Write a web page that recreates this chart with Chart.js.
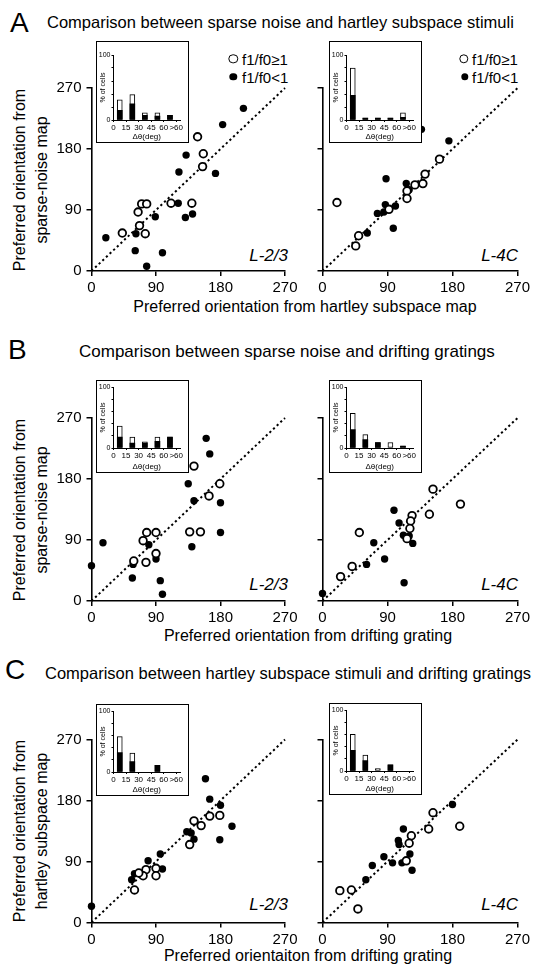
<!DOCTYPE html>
<html><head><meta charset="utf-8">
<script src="https://cdn.jsdelivr.net/npm/chart.js@4.4.0/dist/chart.umd.min.js"></script>
<style>
html,body{margin:0;padding:0;background:#fff;}
body{width:538px;height:965px;position:relative;overflow:hidden;font-family:"Liberation Sans",Arial,sans-serif;color:#000;}
.abs{position:absolute;white-space:nowrap;line-height:1;}
.vc{transform:translateY(-50%);}
.cc{transform:translate(-50%,-50%);}
.rc{transform:translate(-100%,-50%);}
.ytitle{position:absolute;white-space:nowrap;font-size:16px;line-height:22px;text-align:center;transform:translate(-50%,-50%) rotate(-90deg);}
canvas{position:absolute;}
.inset{position:absolute;border:1px solid #000;background:#fff;box-sizing:border-box;}
.inset canvas{position:absolute;left:0;top:0;}
.mo{position:absolute;width:9.4px;height:9.4px;border:1.8px solid #000;border-radius:50%;box-sizing:border-box;background:#fff;transform:translate(-50%,-50%);}
.mf{position:absolute;width:7.4px;height:7.4px;border-radius:50%;background:#000;transform:translate(-50%,-50%);}
</style></head><body>

<div class="abs vc" style="left:10px;top:23px;font-size:28px">A</div>
<div class="abs vc" style="left:47px;top:22px;font-size:16.5px">Comparison between sparse noise and hartley subspace stimuli</div>
<div class="abs vc" style="left:8px;top:350px;font-size:28px">B</div>
<div class="abs vc" style="left:79px;top:351px;font-size:17px">Comparison between sparse noise and drifting gratings</div>
<div class="abs vc" style="left:5px;top:670px;font-size:28px">C</div>
<div class="abs vc" style="left:45px;top:673px;font-size:16.5px">Comparison between hartley subspace stimuli and drifting gratings</div>

<div class="ytitle" style="left:31px;top:180px">Preferred orientation from<br>sparse-noise map</div>
<div class="ytitle" style="left:31px;top:510px">Preferred orientation from<br>sparse-noise map</div>
<div class="ytitle" style="left:31px;top:831px">Preferred orientation from<br>hartley subspace map</div>

<div class="abs cc" style="left:305px;top:306.5px;font-size:16px">Preferred orientation from hartley subspace map</div>
<div class="abs cc" style="left:308px;top:636px;font-size:16px">Preferred orientation from drifting grating</div>
<div class="abs cc" style="left:308px;top:956px;font-size:16px">Preferred orientaiton from drifting grating</div>

<div class="mo" style="left:233.3px;top:59px"></div>
<div class="abs vc" style="left:242px;top:59px;font-size:15px">f1/f0≥1</div>
<div class="mf" style="left:233.3px;top:77px"></div>
<div class="abs vc" style="left:242px;top:77px;font-size:15px">f1/f0&lt;1</div>
<div class="mo" style="left:463.5px;top:59px"></div>
<div class="abs vc" style="left:472px;top:59px;font-size:15px">f1/f0≥1</div>
<div class="mf" style="left:464.5px;top:77px"></div>
<div class="abs vc" style="left:472px;top:77px;font-size:15px">f1/f0&lt;1</div>

<div class="abs rc" style="left:288px;top:255px;font-size:17px;font-style:italic">L-2/3</div>
<div class="abs rc" style="left:518px;top:255px;font-size:17px;font-style:italic">L-4C</div>
<div class="abs rc" style="left:288px;top:584px;font-size:17px;font-style:italic">L-2/3</div>
<div class="abs rc" style="left:518px;top:584px;font-size:17px;font-style:italic">L-4C</div>
<div class="abs rc" style="left:288px;top:904px;font-size:17px;font-style:italic">L-2/3</div>
<div class="abs rc" style="left:518px;top:904px;font-size:17px;font-style:italic">L-4C</div>

<script>
// ---------- data ----------
const degTicks = [0, 90, 180, 270];
const insetTickLabels = ['0', '15', '30', '45', '60', '>60'];

// A: sparse noise (y) vs hartley subspace (x)
const A23_open = [[148,198],[156,173],[155,154],[70,99],[77,99],[65,87],[111,100],[140,100],[67,67],[43,56],[75,55]];
const A23_filled = [[212,240],[183,216],[132,171],[122,146],[173,144],[121,100],[141,84],[131,79],[89,80],[20,49],[62,55],[61,30],[99,27],[77,7]];
const A4C_open = [[20,101],[50,52],[46,37],[92,91],[117,118],[117,107],[128,127],[139,129],[142,143],[162,165]];
const A4C_filled = [[137,209],[175,192],[88,136],[116,129],[87,98],[101,96],[76,85],[85,87],[62,56],[98,63],[120,120]];

// B: sparse noise (y) vs drifting grating (x)
const B23_open = [[143,199],[179,173],[164,155],[77,101],[90,101],[72,89],[137,102],[152,102],[90,70],[59,59],[76,57]];
const B23_filled = [[160,240],[165,217],[135,173],[143,148],[180,145],[180,101],[140,80],[80,83],[90,62],[57,34],[96,30],[99,10],[16,86],[0,52],[58,54]];
const B4C_open = [[153,165],[191,143],[148,128],[124,126],[122,118],[121,107],[117,92],[51,101],[41,51],[25,36]];
const B4C_filled = [[99,134],[106,115],[112,97],[125,85],[71,86],[86,62],[61,54],[113,27],[0,11],[120,96]];

// C: hartley subspace (y) vs drifting grating (x)
const C23_open = [[143,150],[153,143],[165,157],[179,158],[137,115],[90,80],[90,69],[76,78],[72,69],[60,48],[66,73]];
const C23_filled = [[159,212],[165,182],[180,173],[196,142],[179,122],[133,134],[139,132],[143,123],[96,101],[79,91],[99,79],[60,72],[56,63],[0,24]];
const C4C_open = [[153,162],[147,138],[190,142],[123,128],[120,117],[116,91],[24,47],[40,48],[49,20]];
const C4C_filled = [[180,174],[112,138],[105,121],[106,115],[121,101],[85,97],[97,88],[110,88],[124,77],[69,84],[60,63]];

// insets: % of cells per delta-theta bin (black = f1/f0<1 part, white = f1/f0>=1 part)
const A23_histBlack = [15, 25, 7, 6, 7];
const A23_histWhite = [16, 14, 4, 5, 0];
const A4C_histBlack = [38, 3, 3, 3, 4];
const A4C_histWhite = [42, 0, 0, 0, 7];
const B23_histBlack = [18, 8, 8, 11, 18];
const B23_histWhite = [18, 10, 2, 7, 0];
const B4C_histBlack = [30, 14, 9, 0, 3];
const B4C_histWhite = [27, 8, 0, 9, 0];
const C23_histBlack = [32, 17, 0, 11, 0];
const C23_histWhite = [26, 14, 0, 0, 0];
const C4C_histBlack = [34, 17, 0, 10, 0];
const C4C_histWhite = [26, 9, 4, 0, 0];

// ---------- layout ----------
Chart.defaults.font.family = '"Liberation Sans", Arial, sans-serif';
Chart.defaults.color = '#000';

const COLS = {L:{x0:91.5, x1:285, yw:50.5, labels:true}, R:{x0:322.5, x1:517.5, yw:22.5, labels:false}};
const ROWS = {A:{y1:88, y0:271}, B:{y1:418, y0:601}, C:{y1:739.5, y0:922.5}};

const PANELS = [
  {col:'L', row:'A', open:A23_open, filled:A23_filled},
  {col:'R', row:'A', open:A4C_open, filled:A4C_filled},
  {col:'L', row:'B', open:B23_open, filled:B23_filled},
  {col:'R', row:'B', open:B4C_open, filled:B4C_filled},
  {col:'L', row:'C', open:C23_open, filled:C23_filled},
  {col:'R', row:'C', open:C4C_open, filled:C4C_filled},
];
const INSETS = [
  {bx:96,  by:41,  bh:102, padTop:13, y0c:78, black:A23_histBlack, white:A23_histWhite},
  {bx:329, by:41,  bh:102, padTop:13, y0c:78, black:A4C_histBlack, white:A4C_histWhite},
  {bx:96,  by:380, bh:93,  padTop:6,  y0c:67, black:B23_histBlack, white:B23_histWhite},
  {bx:329, by:380, bh:93,  padTop:6,  y0c:67, black:B4C_histBlack, white:B4C_histWhite},
  {bx:96,  by:704, bh:92,  padTop:6,  y0c:67, black:C23_histBlack, white:C23_histWhite},
  {bx:329, by:703, bh:92,  padTop:6,  y0c:67, black:C4C_histBlack, white:C4C_histWhite},
];

function axisBase(){
  return {
    grid:{drawOnChartArea:false, drawTicks:true, tickLength:5, color:'#000', lineWidth:1.5},
    border:{display:true, color:'#000', width:1.6},
  };
}

function makeScatter(p){
  const c = COLS[p.col], r = ROWS[p.row];
  const left = c.x0 - c.yw;
  const top = Math.floor(r.y1 - 14);
  const width = Math.ceil(c.x1 - left + 24);
  const height = Math.ceil(r.y0 - top + 32);
  const padTop = r.y1 - top;
  const padRight = width - (c.x1 - left);
  const xh = height - (r.y0 - top);
  const cv = document.createElement('canvas');
  cv.width = width; cv.height = height;
  cv.style.left = left + 'px'; cv.style.top = top + 'px';
  cv.style.width = width + 'px'; cv.style.height = height + 'px';
  document.body.appendChild(cv);
  const toXY = a => a.map(q => ({x:q[0], y:q[1]}));
  new Chart(cv, {
    type:'scatter',
    data:{datasets:[
      {data:toXY(p.open), pointRadius:3.8, pointHoverRadius:3.8, pointBorderWidth:1.8,
       pointBackgroundColor:'#fff', pointBorderColor:'#000', clip:false},
      {data:toXY(p.filled), pointRadius:3.7, pointHoverRadius:3.7, pointBorderWidth:0,
       pointBackgroundColor:'#000', pointBorderColor:'#000', clip:false},
      {type:'line', data:[{x:degTicks[0], y:degTicks[0]}, {x:degTicks[3], y:degTicks[3]}],
       borderColor:'#000', borderWidth:2, borderDash:[2.2, 2.8], pointRadius:0, fill:false, clip:false}
    ]},
    options:{
      responsive:false, animation:false, devicePixelRatio:1, events:[],
      plugins:{legend:{display:false}, tooltip:{enabled:false}},
      layout:{padding:{left:0, top:padTop, right:padRight, bottom:0}},
      scales:{
        x:Object.assign(axisBase(), {
          type:'linear', min:0, max:270,
          afterBuildTicks:s => { s.ticks = degTicks.map(v => ({value:v})); },
          ticks:{font:{size:15}, color:'#000', padding:3, maxRotation:0, autoSkip:false},
          afterFit:s => { s.height = xh; }
        }),
        y:Object.assign(axisBase(), {
          type:'linear', min:0, max:270,
          afterBuildTicks:s => { s.ticks = degTicks.map(v => ({value:v})); },
          ticks:{font:{size:15}, color:'#000', padding:5, autoSkip:false,
                 callback:v => c.labels ? String(v) : ''},
          afterFit:s => { s.width = c.yw; }
        })
      }
    }
  });
}

function makeInset(p){
  const box = document.createElement('div');
  box.className = 'inset';
  box.style.left = p.bx + 'px'; box.style.top = p.by + 'px';
  box.style.width = '93px'; box.style.height = p.bh + 'px';
  const w = 91, h = p.bh - 2;
  const cv = document.createElement('canvas');
  cv.width = w; cv.height = h; cv.style.width = w + 'px'; cv.style.height = h + 'px';
  box.appendChild(cv);
  document.body.appendChild(box);
  const xh = h - p.y0c;
  const blackPts = [], totalPts = [];
  p.black.forEach((b, i) => {
    const t = b + p.white[i];
    if (b > 0) blackPts.push({x:i + 0.5, y:b});
    if (t > 0) totalPts.push({x:i + 0.5, y:t});
  });
  const g = {drawOnChartArea:false, drawTicks:true, tickLength:2, color:'#000', lineWidth:1, offset:false};
  new Chart(cv, {
    type:'bar',
    data:{datasets:[
      {data:blackPts, backgroundColor:'#000', borderWidth:0, grouped:false, barThickness:5},
      {data:totalPts, backgroundColor:'#fff', borderColor:'#000', borderWidth:1, borderSkipped:false, grouped:false, barThickness:5}
    ]},
    options:{
      responsive:false, animation:false, devicePixelRatio:1, events:[],
      plugins:{legend:{display:false}, tooltip:{enabled:false}},
      layout:{padding:{left:0, top:p.padTop, right:8, bottom:0}},
      scales:{
        x:{type:'linear', min:0, max:5.3, offset:false, grid:g,
           border:{display:true, color:'#000', width:1},
           afterBuildTicks:s => { s.ticks = insetTickLabels.map((_, i) => ({value:i})); },
           ticks:{font:{size:8}, padding:1, maxRotation:0, autoSkip:false,
                  callback:v => insetTickLabels[v] !== undefined ? insetTickLabels[v] : ''},
           title:{display:true, text:'Δθ(deg)', font:{size:8}, padding:{top:1, bottom:0}},
           afterFit:s => { s.height = xh; }},
        y:{type:'linear', min:0, max:100, grid:g,
           border:{display:true, color:'#000', width:1},
           ticks:{stepSize:20, font:{size:7}, padding:1, autoSkip:false,
                  callback:v => (v === 0 || v === 100) ? String(v) : ''},
           title:{display:true, text:'% of cells', font:{size:7}, padding:{top:2, bottom:0}},
           afterFit:s => { s.width = 16.5; }}
      }
    }
  });
}

PANELS.forEach(makeScatter);
INSETS.forEach(makeInset);
</script>
</body></html>
